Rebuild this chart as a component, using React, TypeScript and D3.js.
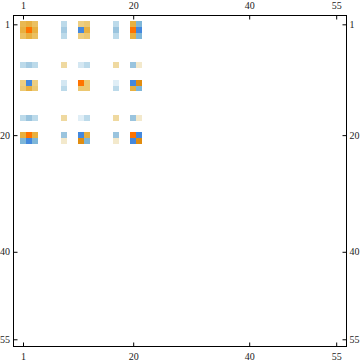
import React, { useEffect, useRef } from 'react';
import * as d3 from 'd3';

// matrix size and the rows/cols that hold non-zero entries
const size = 55;
const indices = [1, 2, 3, 8, 11, 12, 17, 20, 21];
const tickValues = [1, 20, 40, 55];

// values of the non-zero sub-block, rows/cols ordered as in `indices`
const row1 = [0.55, 0.6, 0.5, -0.25, 0.4, 0.45, -0.25, 0.6, -0.55];
const row2 = [0.6, 1, 0.6, -0.35, -1, 0.6, -0.4, 1, -1];
const row3 = [0.5, 0.6, 0.5, -0.25, 0.4, 0.45, -0.25, 0.6, -0.55];
const row8 = [-0.25, -0.35, -0.25, 0.3, -0.15, -0.25, 0.3, -0.4, 0.15];
const row11 = [0.4, -1, 0.4, -0.15, 1, 0.45, -0.1, -1, 0.85];
const row12 = [0.45, 0.6, 0.45, -0.25, 0.45, 0.45, -0.25, 0.6, -0.55];
const row17 = [-0.25, -0.4, -0.25, 0.3, -0.1, -0.25, 0.3, -0.4, 0.15];
const row20 = [0.6, 1, 0.6, -0.4, -1, 0.6, -0.4, 1, -1];
const row21 = [-0.55, -1, -0.55, 0.15, 0.85, -0.55, 0.15, -1, 0.85];
const rows = [row1, row2, row3, row8, row11, row12, row17, row20, row21];

const App = () => {
  const ref = useRef<SVGSVGElement>(null);

  useEffect(() => {
    const svg = d3.select(ref.current);
    svg.selectAll('*').remove();

    const frame = { left: 13.5, right: 346.5, top: 15.5, bottom: 346.5 };

    const x = d3.scaleLinear().domain([0.5, size + 0.5]).range([20.1, 339.1]);
    const y = d3.scaleLinear().domain([0.5, size + 0.5]).range([21.4, 342.2]);

    const color = d3.scaleLinear<string>()
      .domain([-1, -0.55, -0.4, -0.25, -0.1, 0, 0.15, 0.3, 0.45, 0.6, 0.85, 1])
      .range(['#4488dd', '#7eb6d8', '#9ac4de', '#bcdaea', '#e0eef6', '#ffffff',
        '#f3e9cc', '#efd9a0', '#ecc872', '#e8b040', '#e08c10', '#ff7300'])
      .clamp(true);

    const cells: { r: number; c: number; v: number }[] = [];
    rows.forEach((vals, i) => {
      vals.forEach((v, j) => {
        if (v !== 0) cells.push({ r: indices[i], c: indices[j], v });
      });
    });

    svg.append('g')
      .selectAll('rect')
      .data(cells)
      .enter()
      .append('rect')
      .attr('x', (d) => x(d.c - 0.5))
      .attr('y', (d) => y(d.r - 0.5))
      .attr('width', (d) => x(d.c + 0.5) - x(d.c - 0.5))
      .attr('height', (d) => y(d.r + 0.5) - y(d.r - 0.5))
      .attr('fill', (d) => color(d.v))
      .attr('shape-rendering', 'crispEdges');

    // frame
    svg.append('rect')
      .attr('x', frame.left)
      .attr('y', frame.top)
      .attr('width', frame.right - frame.left)
      .attr('height', frame.bottom - frame.top)
      .attr('fill', 'none')
      .attr('stroke', 'black')
      .attr('stroke-width', 1);

    const styleAxis = (g: d3.Selection<SVGGElement, unknown, null, undefined>) => {
      g.select('.domain').remove();
      g.selectAll('line').attr('stroke', 'black');
      g.selectAll('text')
        .attr('fill', '#222')
        .style('font-family', '"Liberation Serif", "DejaVu Serif", serif')
        .style('font-size', '10px');
    };

    svg.append('g')
      .attr('transform', `translate(0,${frame.top})`)
      .call(d3.axisTop(x).tickValues(tickValues).tickFormat(d3.format('d')).tickSizeInner(-4).tickSizeOuter(0).tickPadding(6.5))
      .call(styleAxis);

    svg.append('g')
      .attr('transform', `translate(0,${frame.bottom})`)
      .call(d3.axisBottom(x).tickValues(tickValues).tickFormat(d3.format('d')).tickSizeInner(-4).tickSizeOuter(0).tickPadding(6))
      .call(styleAxis);

    svg.append('g')
      .attr('transform', `translate(${frame.left},0)`)
      .call(d3.axisLeft(y).tickValues(tickValues).tickFormat(d3.format('d')).tickSizeInner(-4).tickSizeOuter(0).tickPadding(3.5))
      .call(styleAxis);

    svg.append('g')
      .attr('transform', `translate(${frame.right},0)`)
      .call(d3.axisRight(y).tickValues(tickValues).tickFormat(d3.format('d')).tickSizeInner(-4).tickSizeOuter(0).tickPadding(3))
      .call(styleAxis);
  }, []);

  return (
    <svg
      ref={ref}
      width={360}
      height={363}
      style={{ position: 'absolute', left: 0, top: 0, background: 'white' }}
    />
  );
};

export default App;
